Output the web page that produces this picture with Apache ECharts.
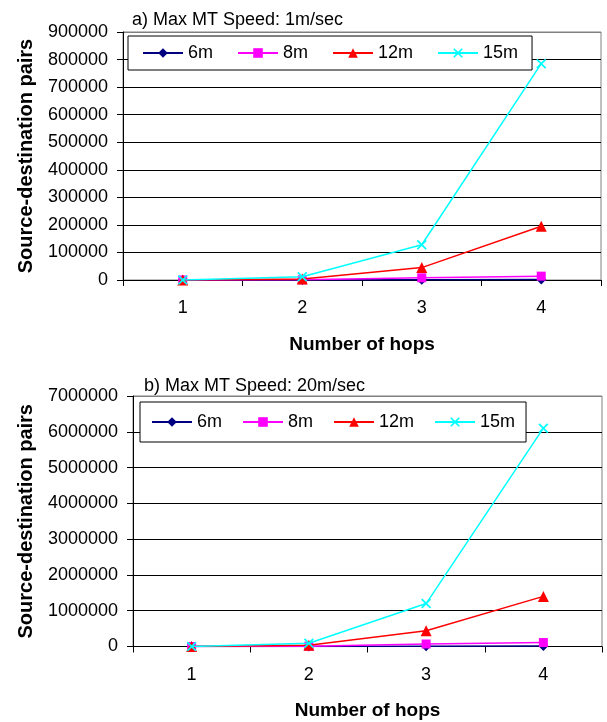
<!DOCTYPE html>
<html>
<head>
<meta charset="utf-8">
<script src="https://cdn.jsdelivr.net/npm/echarts@6/dist/echarts.min.js"></script>
<style>
html,body{margin:0;padding:0;background:#fff;}
#c{width:607px;height:722px;}
</style>
</head>
<body>
<div id="c"></div>
<script>
const hops = ['1', '2', '3', '4'];
const seriesNames = ['6m', '8m', '12m', '15m'];
// a) Max MT Speed: 1m/sec
const a6m = [1, 150, 700, 1500];
const a8m = [1, 800, 8000, 14000];
const a12m = [1, 4000, 45000, 195000];
const a15m = [1, 12000, 128000, 785000];
// b) Max MT Speed: 20m/sec
const b6m = [1, 1000, 8000, 15000];
const b8m = [1, 10000, 70000, 110000];
const b12m = [1, 35000, 440000, 1400000];
const b15m = [1, 90000, 1200000, 6100000];
const titleA = 'a) Max MT Speed: 1m/sec';
const titleB = 'b) Max MT Speed: 20m/sec';
const xName = 'Number of hops';
const yName = 'Source-destination pairs';

const FONT = 'Liberation Sans, Arial, sans-serif';
const colors = ['#000080', '#FF00FF', '#FF0000', '#00FFFF'];
const xPath = 'path://M0,1.2L1.2,0L5,3.8L8.8,0L10,1.2L6.2,5L10,8.8L8.8,10L5,6.2L1.2,10L0,8.8L3.8,5Z';
const symbols = ['diamond', 'rect', 'triangle', xPath];
const sizes = [10, 9, 11, 10];

function mkSeries(dataArr, idx) {
  return dataArr.map((d, i) => ({
    name: seriesNames[i],
    type: 'line',
    xAxisIndex: idx, yAxisIndex: idx,
    data: d,
    symbol: symbols[i],
    symbolSize: sizes[i],
    showAllSymbol: true,
    animation: false,
    lineStyle: { color: colors[i], width: 1.5 },
    itemStyle: { color: colors[i] },
    z: 3 + i
  }));
}

function mkLegend(left, top, padding, gap) {
  return {
    data: seriesNames,
    orient: 'horizontal',
    left: left, top: top,
    padding: padding,
    itemGap: gap,
    itemWidth: 40, itemHeight: 12,
    backgroundColor: '#fff',
    borderColor: '#000', borderWidth: 1,
    textStyle: { fontFamily: FONT, fontSize: 18, color: '#000' },
    selectedMode: false,
    z: 10
  };
}

function mkX(gridIdx, gap, margin) {
  return {
    type: 'category', gridIndex: gridIdx, data: hops,
    boundaryGap: true,
    axisLine: { lineStyle: { color: '#000', width: 1 } },
    axisTick: { show: true, length: 6, inside: false, alignWithLabel: false, lineStyle: { color: '#000' } },
    axisLabel: { fontFamily: FONT, fontSize: 18, color: '#000', margin: margin },
    splitLine: { show: false },
    name: xName, nameLocation: 'middle', nameGap: gap,
    nameTextStyle: { fontFamily: FONT, fontSize: 19, fontWeight: 'bold', color: '#000' }
  };
}

function mkY(gridIdx, max, interval, gap) {
  const n = Math.round(max / interval) + 1;
  const cols = [];
  for (let i = 0; i < n; i++) cols.push(i === n - 1 ? '#808080' : '#000');
  return {
    type: 'value', gridIndex: gridIdx, min: 0, max: max, interval: interval,
    axisLine: { show: true, lineStyle: { color: '#000', width: 1 } },
    axisTick: { show: true, length: 6, lineStyle: { color: '#000' } },
    axisLabel: { fontFamily: FONT, fontSize: 18, color: '#000', margin: 15, formatter: v => String(v) },
    splitLine: { show: true, lineStyle: { color: cols, width: 1 } },
    name: yName, nameLocation: 'middle', nameRotate: 90, nameGap: gap,
    nameTextStyle: { fontFamily: FONT, fontSize: 20, fontWeight: 'bold', color: '#000' }
  };
}

const chart = echarts.init(document.getElementById('c'), null, { renderer: 'canvas' });
chart.setOption({
  backgroundColor: '#fff',
  animation: false,
  title: [
    { text: titleA, left: 127, top: 6, textStyle: { fontFamily: FONT, fontSize: 18, fontWeight: 'normal', color: '#000' } },
    { text: titleB, left: 139, top: 372, textStyle: { fontFamily: FONT, fontSize: 18, fontWeight: 'normal', color: '#000' } }
  ],
  legend: [
    mkLegend(128, 36, [8, 14], 24),
    mkLegend(140, 402, [11, 11], 20)
  ],
  grid: [
    { left: 123, top: 32, right: 6, height: 248, show: true, borderColor: '#808080', borderWidth: 1, containLabel: false },
    { left: 133, top: 396, right: 5, height: 250.5, show: true, borderColor: '#808080', borderWidth: 1, containLabel: false }
  ],
  xAxis: [mkX(0, 55, 19), mkX(1, 55, 20)],
  yAxis: [mkY(0, 900000, 100000, 87), mkY(1, 7000000, 1000000, 97)],
  series: [].concat(mkSeries([a6m, a8m, a12m, a15m], 0), mkSeries([b6m, b8m, b12m, b15m], 1))
});
</script>
</body>
</html>
